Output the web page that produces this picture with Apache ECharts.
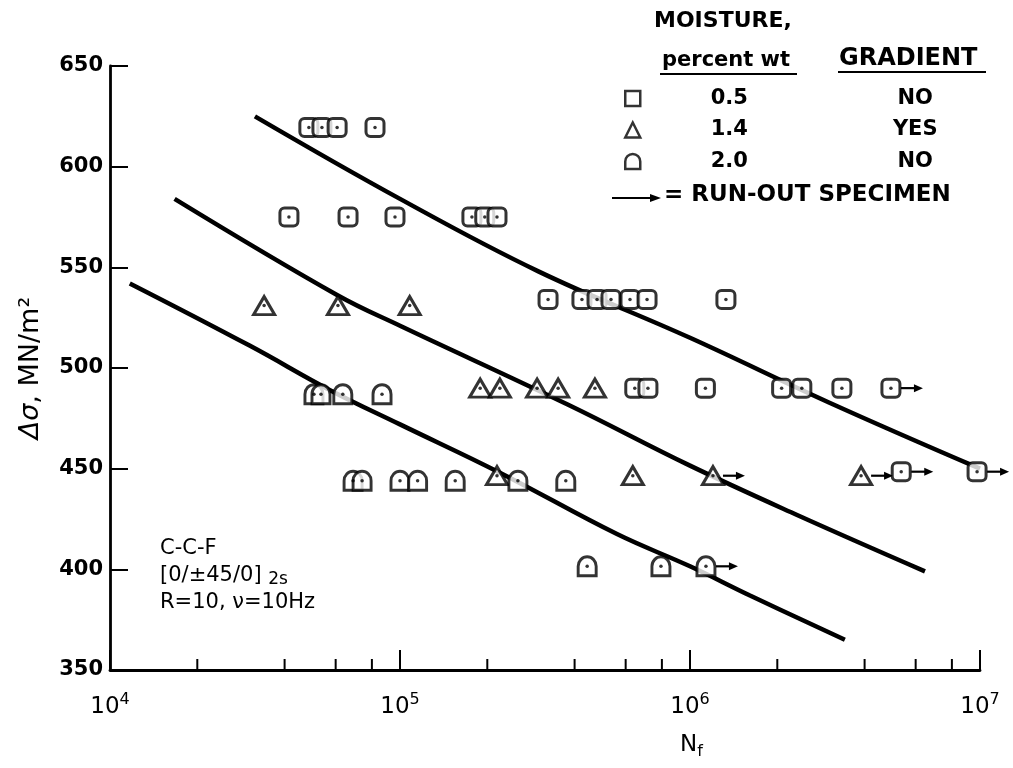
<!DOCTYPE html>
<html><head><meta charset="utf-8">
<script src="https://cdn.jsdelivr.net/npm/echarts@6/dist/echarts.min.js"></script>
<style>html,body{margin:0;padding:0;background:#fff}#c{width:1013px;height:768px}</style>
</head><body><div id="c"></div>
<script>
// ---- axis settings ----
const xMin = 1e4, xMax = 1e7;
const yMin = 350, yMax = 650, yStep = 50;
const minorMantissas = [2, 4, 6, 8];
const minorDecades = [1e4, 1e5, 1e6];

// ---- 0.5 percent wt moisture, no gradient (squares) ----
const sqN = [48500, 53800, 60700, 82000,
             41400, 66200, 96100, 177000, 196000, 216000,
             324000, 424000, 478000, 534000, 621000, 711000, 1330000,
             645000, 716000, 1130000, 2070000, 2430000, 3340000, 4930000,
             5350000, 9770000];
const sqS = [619.5, 619.5, 619.5, 619.5,
             575, 575, 575, 575, 575, 575,
             534, 534, 534, 534, 534, 534, 534,
             490, 490, 490, 490, 490, 490, 490,
             448.5, 448.5];
const sqRunOut = [0,0,0,0, 0,0,0,0,0,0, 0,0,0,0,0,0,0, 0,0,0,0,0,0,1, 1,1];

// ---- 1.4 percent wt moisture, gradient (triangles) ----
const triN = [34000, 61100, 108000,
              189000, 221000, 297000, 351000, 470000,
              216000, 635000, 1200000, 3890000];
const triS = [531, 531, 531,
              490, 490, 490, 490, 490,
              446.5, 446.5, 446.5, 446.5];
const triRunOut = [0,0,0, 0,0,0,0,0, 0,0,1,1];

// ---- 2.0 percent wt moisture, no gradient (domes) ----
const cirN = [50500, 53400, 63500, 86700,
              68900, 74000, 100000, 115000, 155000, 255000, 373000,
              442000, 794000, 1135000];
const cirS = [487, 487, 487, 487,
              444, 444, 444, 444, 444, 444, 444,
              401.5, 401.5, 401.5];
const cirRunOut = [0,0,0,0, 0,0,0,0,0,0,0, 0,0,1];

// ---- fitted curves ----
const upperN = [31600, 100000, 300000, 1000000, 3000000, 10000000];
const upperS = [625, 584, 548, 515, 483, 450];
const middleN = [16700, 61100, 100000, 377000, 1000000, 2340000, 6460000];
const middleS = [584, 536, 521, 482, 451.5, 427, 399];
const lowerN = [11700, 30400, 57400, 100000, 221000, 560000, 1000000, 1610000, 3420000];
const lowerS = [542, 511, 489, 472, 448, 417.5, 401.5, 387, 365];

// ---- legend texts ----
const moistureLabels = ['0.5', '1.4', '2.0'];
const gradientLabels = ['NO', 'YES', 'NO'];

const FONT = 'DejaVu Sans';
const DOME = 'path://M0,18 L0,9 A9,9 0 0 1 18,9 L18,18 Z';

function pts(N, S) { return N.map((n, i) => [n, S[i]]); }
function runPts(N, S, R, gap) {
  const o = [];
  R.forEach((r, i) => { if (r) o.push([N[i], S[i], gap]); });
  return o;
}
const minorTicks = [];
minorDecades.forEach(d => minorMantissas.forEach(m => minorTicks.push([d * m])));

const markerStyle = { color: '#fff', borderColor: '#000', borderWidth: 3 };

const chart = echarts.init(document.getElementById('c'));
const option = {
  animation: false,
  backgroundColor: '#fff',
  grid: { left: 110, right: 33, top: 66, bottom: 98 },
  xAxis: {
    type: 'log', logBase: 10, min: xMin, max: xMax,
    axisLine: { lineStyle: { color: '#000', width: 2.8 } },
    axisTick: { inside: true, length: 20, lineStyle: { color: '#000', width: 2 } },
    splitLine: { show: false },
    axisLabel: {
      margin: 22, color: '#000', fontFamily: FONT, fontSize: 23,
      formatter: v => '10{s|' + Math.round(Math.log10(v)) + '}',
      rich: { s: { fontFamily: FONT, fontSize: 16, verticalAlign: 'top', padding: [0, 0, 14, 0] } }
    }
  },
  yAxis: {
    type: 'value', min: yMin, max: yMax, interval: yStep,
    name: '{i|Δσ}, MN/m²', nameLocation: 'middle', nameGap: 66, nameRotate: 90,
    nameTextStyle: { fontFamily: FONT, fontSize: 27, color: '#000',
      rich: { i: { fontFamily: FONT, fontSize: 27, fontStyle: 'italic' } } },
    axisLine: { show: true, lineStyle: { color: '#000', width: 2.8 } },
    axisTick: { show: true, inside: true, length: 18, lineStyle: { color: '#000', width: 2 } },
    splitLine: { show: false },
    axisLabel: { margin: 7, color: '#000', fontFamily: FONT, fontWeight: 'bold', fontSize: 21 }
  },
  legend: {
    left: 619, top: 83, orient: 'vertical', itemWidth: 15, itemHeight: 15, itemGap: 10.5,
    selectedMode: false,
    itemStyle: { borderWidth: 2.5, borderColor: '#000', color: '#fff' },
    data: [
      { name: '0.5', icon: 'rect' },
      { name: '1.4', icon: 'triangle' },
      { name: '2.0', icon: DOME }
    ],
    formatter: name => {
      const i = moistureLabels.indexOf(name);
      return '{a|' + name + '}{b|' + gradientLabels[i] + '}';
    },
    textStyle: {
      color: '#000', fontFamily: FONT, fontWeight: 'bold', fontSize: 21,
      rich: {
        a: { width: 168, align: 'center', fontFamily: FONT, fontWeight: 'bold', fontSize: 21 },
        b: { width: 204, align: 'center', fontFamily: FONT, fontWeight: 'bold', fontSize: 21 }
      }
    }
  },
  graphic: [
    { type: 'text', left: 654, top: 10, style: { text: 'MOISTURE,', font: 'bold 22px "DejaVu Sans"', fill: '#000' } },
    { type: 'text', left: 662, top: 50, style: { text: 'percent wt', font: 'bold 21px "DejaVu Sans"', fill: '#000' } },
    { type: 'line', shape: { x1: 660, y1: 74, x2: 797, y2: 74 }, style: { stroke: '#000', lineWidth: 2 } },
    { type: 'text', left: 839, top: 47, style: { text: 'GRADIENT', font: 'bold 24px "DejaVu Sans"', fill: '#000' } },
    { type: 'line', shape: { x1: 838, y1: 72, x2: 986, y2: 72 }, style: { stroke: '#000', lineWidth: 2 } },
    { type: 'line', shape: { x1: 612, y1: 198, x2: 652, y2: 198 }, style: { stroke: '#000', lineWidth: 2 } },
    { type: 'polygon', shape: { points: [[661, 198], [650, 194], [650, 202]] }, style: { fill: '#000' } },
    { type: 'text', left: 664, top: 184, style: { text: '= RUN-OUT SPECIMEN', font: 'bold 23px "DejaVu Sans"', fill: '#000' } },
    { type: 'text', left: 160, top: 538, style: { text: 'C-C-F', font: '21px "DejaVu Sans"', fill: '#000' } },
    { type: 'text', left: 160, top: 565, style: {
        text: '[0/±45/0] {s|2s}', font: '21px "DejaVu Sans"', fill: '#000',
        rich: { s: { fontFamily: FONT, fontSize: 17, verticalAlign: 'bottom', padding: [8, 0, 0, 0] } } } },
    { type: 'text', left: 160, top: 592, style: { text: 'R=10, ν=10Hz', font: '21px "DejaVu Sans"', fill: '#000' } },
    { type: 'text', left: 680, top: 734, style: {
        text: 'N{s|f}', font: '23px "DejaVu Sans"', fill: '#000',
        rich: { s: { fontFamily: FONT, fontSize: 16, verticalAlign: 'bottom', padding: [12, 0, 0, 0] } } } }
  ],
  series: [
    { type: 'line', data: pts(upperN, upperS), smooth: 0.4, symbol: 'none', lineStyle: { color: '#000', width: 4.5 }, z: 2, silent: true },
    { type: 'line', data: pts(middleN, middleS), smooth: 0.4, symbol: 'none', lineStyle: { color: '#000', width: 4.5 }, z: 2, silent: true },
    { type: 'line', data: pts(lowerN, lowerS), smooth: 0.4, symbol: 'none', lineStyle: { color: '#000', width: 4.5 }, z: 2, silent: true },
    { name: '0.5', type: 'scatter', data: pts(sqN, sqS), symbol: 'roundRect', symbolSize: 18, itemStyle: markerStyle, z: 5 },
    { name: '1.4', type: 'scatter', data: pts(triN, triS), symbol: 'triangle', symbolSize: [21, 18], itemStyle: markerStyle, z: 5 },
    { name: '2.0', type: 'scatter', data: pts(cirN, cirS), symbol: DOME, symbolSize: [18, 19], itemStyle: markerStyle, z: 5 },
    { type: 'scatter', data: pts(sqN, sqS).concat(pts(triN, triS)).concat(pts(cirN, cirS)),
      symbol: 'circle', symbolSize: 3.5, itemStyle: { color: '#000' }, z: 6, silent: true },
    { type: 'custom', z: 4, silent: true, clip: false,
      data: runPts(sqN, sqS, sqRunOut, 10).concat(runPts(triN, triS, triRunOut, 10)).concat(runPts(cirN, cirS, cirRunOut, 10)),
      renderItem: (params, api) => {
        const p = api.coord([api.value(0), api.value(1)]);
        const g = api.value(2);
        const x0 = p[0] + g, x1 = p[0] + g + 22, y = p[1];
        return { type: 'group', children: [
          { type: 'line', shape: { x1: x0, y1: y, x2: x1 - 6, y2: y }, style: { stroke: '#000', lineWidth: 2.2 } },
          { type: 'polygon', shape: { points: [[x1, y], [x1 - 9, y - 4], [x1 - 9, y + 4]] }, style: { fill: '#000' } }
        ] };
      } },
    { type: 'custom', z: 3, silent: true, data: minorTicks,
      renderItem: (params, api) => {
        const p = api.coord([api.value(0), yMin]);
        return { type: 'line', shape: { x1: p[0], y1: p[1], x2: p[0], y2: p[1] - 11 }, style: { stroke: '#000', lineWidth: 2 } };
      } }
  ]
};
chart.setOption(option);
</script>
</body></html>
